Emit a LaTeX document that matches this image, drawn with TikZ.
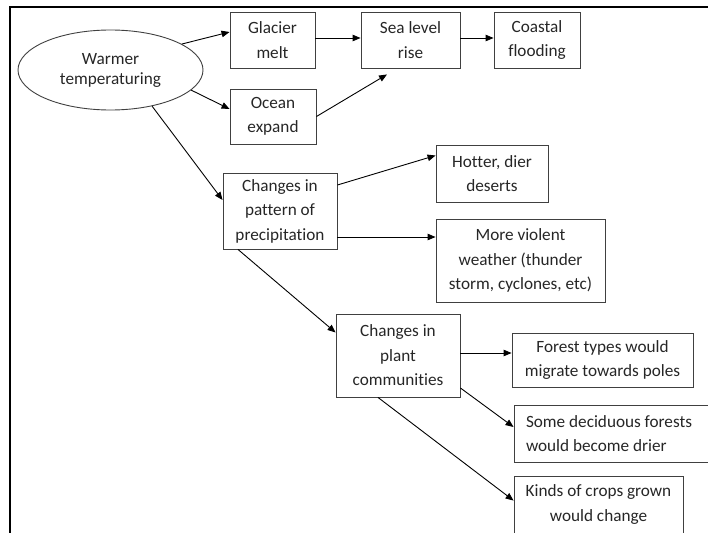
\documentclass[tikz,border=0pt]{standalone}
\usepackage{fontspec}
\setmainfont{Carlito}[Ligatures={NoCommon}]
\usetikzlibrary{arrows.meta,shapes.geometric,calc}
\begin{document}
\begin{tikzpicture}[x=1pt,y=-1pt,
  box/.style={draw=black!75, line width=0.9pt, rectangle, inner sep=0pt, align=center, text=black!85, font=\fontsize{17.2}{24.5}\selectfont},
  oval/.style={draw=black!75, line width=0.9pt, ellipse, inner sep=0pt, align=center, text=black!85, font=\fontsize{17.2}{20}\selectfont},
  arr/.style={draw=black, line width=0.9pt, -{Triangle[length=8pt,width=6.5pt]}},
  frame/.style={draw=black, line width=1.3pt}
]
\useasboundingbox (0,0) rectangle (708,532);
\clip (0,0) rectangle (708,532);
\draw[frame] (10,545) -- (10,7) -- (720,7);

\node[oval, minimum width=185pt, minimum height=80pt] (ell) at (110.5,70) {Warmer\\temperaturing};
\node[box, minimum width=85pt, minimum height=56pt] (glacier) at (272.5,40) {Glacier\\melt};
\node[box, minimum width=86pt, minimum height=55pt] (ocean) at (273,116.5) {Ocean\\expand};
\node[box, minimum width=99pt, minimum height=56pt] (sea) at (410.5,40) {Sea level\\rise};
\node[box, minimum width=86pt, minimum height=56pt] (coast) at (537,40) {Coastal\\flooding};
\node[box, minimum width=114pt, minimum height=76pt] (prec) at (280,211) {Changes in\\pattern of\\precipitation};
\node[box, minimum width=112pt, minimum height=57pt] (hotter) at (492,173.5) {Hotter, dier\\deserts};
\node[box, minimum width=169pt, minimum height=83pt] (viol) at (520.5,260.5) {More violent\\weather (thunder\\storm, cyclones, etc)};
\node[box, minimum width=124pt, minimum height=83pt] (plant) at (398,355.5) {Changes in\\plant\\communities};
\node[box, minimum width=181pt, minimum height=54pt] (forest) at (602.5,360) {Forest types would\\migrate towards poles};
\node[box, align=flush left, inner xsep=12pt, text width=182pt, minimum height=57pt] (decid) at (617,433.5) {Some deciduous forests\\would become drier};
\node[box, minimum width=169pt, minimum height=57pt] (crops) at (598.5,504.5) {Kinds of crops grown\\would change};

\draw[arr] (ell.20) -- ([yshift=8pt]glacier.west);
\draw[arr] (ell.-14) -- ([yshift=7.5pt]ocean.west);
\draw[arr] ([yshift=2pt]glacier.east) -- ([yshift=2pt]sea.west);
\draw[arr] ([yshift=2pt]sea.east) -- ([yshift=2pt]coast.west);
\draw[arr] (ocean.east) -- ([xshift=-23.5pt,yshift=-6pt]sea.south);
\draw[arr] (ell.-41) -- ([yshift=11pt]prec.west);
\draw[arr] ([yshift=26pt]prec.east) -- ([yshift=18pt]hotter.west);
\draw[arr] ([yshift=-26pt]prec.east) -- ([yshift=23.5pt]viol.west);
\draw[arr] ([xshift=-42pt]prec.south) -- ([yshift=23pt]plant.west);
\draw[arr] ([yshift=2.5pt]plant.east) -- ([yshift=7pt]forest.west);
\draw[arr] ([yshift=-32.5pt]plant.east) -- ([yshift=6.5pt]decid.west);
\draw[arr] ([xshift=-20pt]plant.south) -- ([yshift=-25pt]crops.north west);
\end{tikzpicture}
\end{document}
